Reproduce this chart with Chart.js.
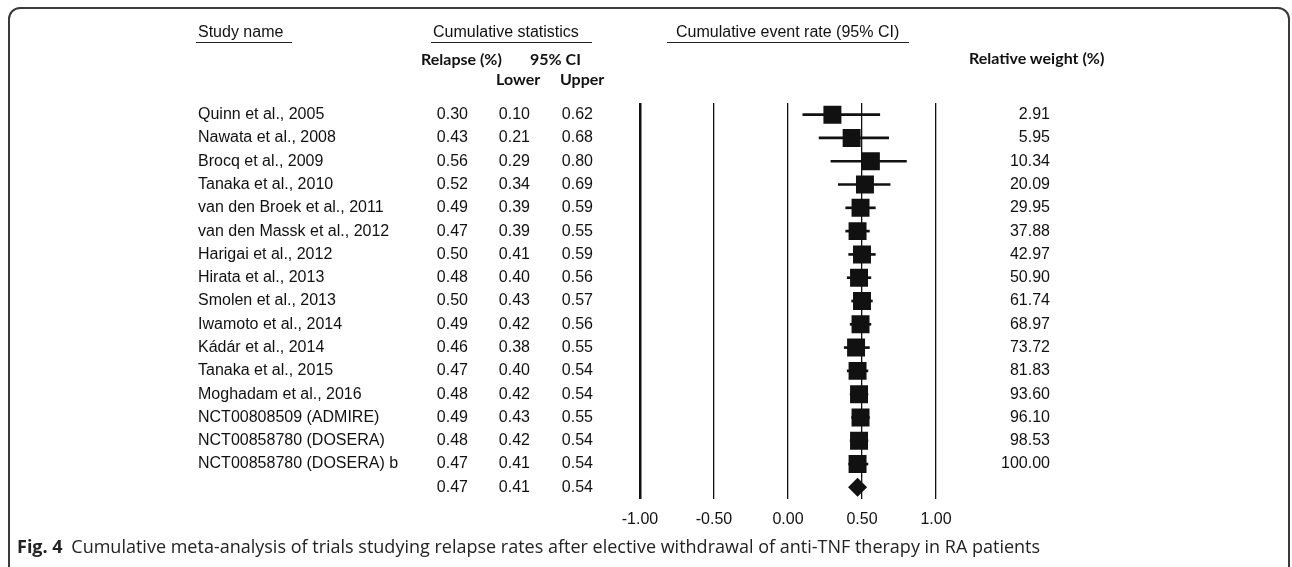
<!DOCTYPE html>
<html>
<head>
<meta charset="utf-8">
<script src="https://cdn.jsdelivr.net/npm/chart.js@4.4.1/dist/chart.umd.min.js"></script>
<style>
  html, body { margin: 0; padding: 0; background: #fff; overflow: hidden; }
  #wrap { position: relative; width: 1292px; height: 567px; }
  #card { position: absolute; left: 8px; top: 7px; width: 1282px; height: 620px;
          border: 2px solid #3a3a3a; border-radius: 12px; box-sizing: border-box; }
  canvas { position: absolute; left: 0; top: 0; }
  .t { position: absolute; white-space: nowrap; color: #111; }
  .hd { font-family: "Liberation Sans", Arial, sans-serif; font-size: 16px; line-height: 18px; }
  .bd { font-family: Lato, "Open Sans", sans-serif; font-weight: 700; font-size: 16px; line-height: 18px; }
  .ul { position: absolute; height: 1px; background: #222; }
  .cap { font-family: "Open Sans", sans-serif; font-size: 18px; line-height: 20px; color: #222; }
  .cap b { margin-right: 4px; }
</style>
</head>
<body>
<div id="wrap">
  <div id="card"></div>
  <canvas id="c" width="1292" height="567"></canvas>
  <div class="t hd" style="left:198px;top:23px">Study name</div>
  <div class="ul" style="left:196px;top:42px;width:96px"></div>
  <div class="t hd" style="left:433px;top:23px">Cumulative statistics</div>
  <div class="ul" style="left:431px;top:42px;width:161px"></div>
  <div class="t hd" style="left:676px;top:23px">Cumulative event rate (95% CI)</div>
  <div class="ul" style="left:667px;top:42px;width:242px"></div>
  <div class="t bd" style="left:421px;top:50px">Relapse (%)</div>
  <div class="t bd" style="left:530px;top:50px">95% CI</div>
  <div class="t bd" style="left:496px;top:70px">Lower</div>
  <div class="t bd" style="left:560px;top:70px">Upper</div>
  <div class="t bd" style="left:969px;top:49px">Relative weight (%)</div>
  <div class="t cap" style="left:17px;top:536px"><b>Fig. 4</b> Cumulative meta-analysis of trials studying relapse rates after elective withdrawal of anti-TNF therapy in RA patients</div>
</div>
<script>
// ---- data ----
const studies = [
  "Quinn et al., 2005", "Nawata et al., 2008", "Brocq et al., 2009", "Tanaka et al., 2010",
  "van den Broek et al., 2011", "van den Massk et al., 2012", "Harigai et al., 2012",
  "Hirata et al., 2013", "Smolen et al., 2013", "Iwamoto et al., 2014", "Kádár et al., 2014",
  "Tanaka et al., 2015", "Moghadam et al., 2016", "NCT00808509 (ADMIRE)",
  "NCT00858780 (DOSERA)", "NCT00858780 (DOSERA) b", ""
];
const relapse = [0.30, 0.43, 0.56, 0.52, 0.49, 0.47, 0.50, 0.48, 0.50, 0.49, 0.46, 0.47, 0.48, 0.49, 0.48, 0.47, 0.47];
const lower   = [0.10, 0.21, 0.29, 0.34, 0.39, 0.39, 0.41, 0.40, 0.43, 0.42, 0.38, 0.40, 0.42, 0.43, 0.42, 0.41, 0.41];
const upper   = [0.62, 0.68, 0.80, 0.69, 0.59, 0.55, 0.59, 0.56, 0.57, 0.56, 0.55, 0.54, 0.54, 0.55, 0.54, 0.54, 0.54];
const weights = [2.91, 5.95, 10.34, 20.09, 29.95, 37.88, 42.97, 50.90, 61.74, 68.97, 73.72, 81.83, 93.60, 96.10, 98.53, 100.00];
const xTickLabels = ["-1.00", "-0.50", "0.00", "0.50", "1.00"];
const summaryIndex = 16;

// ---- derived ----
const fmt = v => v.toFixed(2);
const relLabels = relapse.map(fmt);
const lowLabels = lower.map(fmt);
const upLabels = upper.map(fmt);
const wLabels = weights.map(fmt).concat([""]);
const ciData = lower.map((l, i) => i === summaryIndex ? null : [l, upper[i]]);

const FONT = { family: "'Liberation Sans', Arial, sans-serif", size: 16 };
const black = '#111';

function colAxis(labels, weight, width, crossAlign, pos, pad) {
  return {
    type: 'category', position: pos, labels: labels, offset: true, weight: weight,
    grid: { display: false, drawTicks: false }, border: { display: false },
    ticks: { autoSkip: false, font: FONT, color: black, padding: pad, crossAlign: crossAlign },
    afterFit: s => { s.width = width; }
  };
}

new Chart(document.getElementById('c'), {
  type: 'bar',
  data: {
    labels: studies,
    datasets: [
      { type: 'bar', indexAxis: 'y', data: ciData, backgroundColor: black, barThickness: 2,
        xAxisID: 'x', yAxisID: 'y', order: 2 },
      { type: 'line', indexAxis: 'y', data: relapse, showLine: false, xAxisID: 'x', yAxisID: 'y',
        pointStyle: ctx => ctx.dataIndex === summaryIndex ? 'rectRot' : 'rect',
        pointRadius: ctx => ctx.dataIndex === summaryIndex ? 9.5 : 12.7,
        pointBackgroundColor: black, pointBorderWidth: 0, borderWidth: 0, order: 1 }
    ]
  },
  options: {
    indexAxis: 'y',
    responsive: false,
    animation: false,
    events: [],
    layout: { padding: { left: 198, top: 103, right: 242, bottom: 38 } },
    plugins: { legend: { display: false }, tooltip: { enabled: false } },
    scales: {
      x: {
        type: 'linear', position: 'bottom', min: -1, max: 1,
        grid: { color: black, drawTicks: false,
                lineWidth: ctx => ctx.index === 0 ? 2.5 : 1.3 },
        border: { display: false },
        ticks: { stepSize: 0.5, font: FONT, color: black, padding: 11,
                 callback: (v, i) => xTickLabels[i] },
        afterFit: s => { s.height = 30; }
      },
      y: colAxis(studies, 40, 202, 'far', 'left', 0),
      yRel: colAxis(relLabels, 30, 68, 'near', 'left', 0),
      yLow: colAxis(lowLabels, 20, 62, 'near', 'left', 0),
      yUp: colAxis(upLabels, 10, 110, 'near', 'left', 47),
      yW: colAxis(wLabels, 10, 114, 'far', 'right', 0)
    }
  }
});
</script>
</body>
</html>
